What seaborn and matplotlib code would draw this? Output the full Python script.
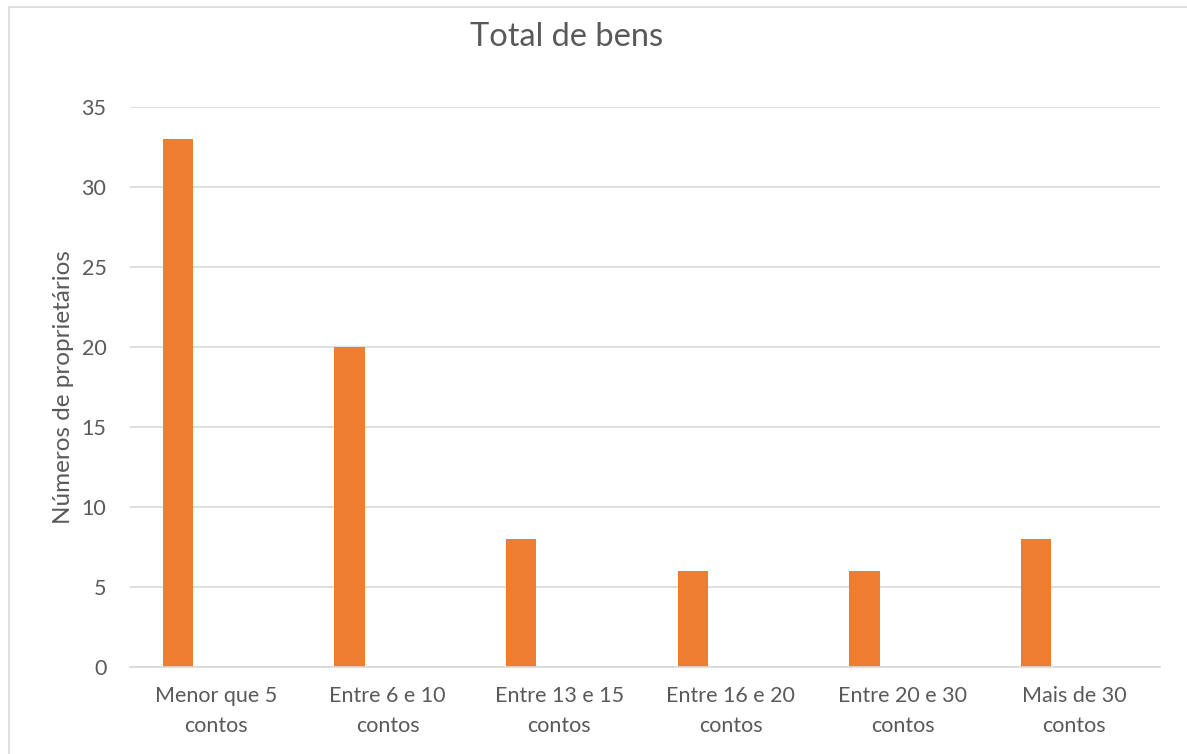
import matplotlib
matplotlib.use("Agg")
import matplotlib.pyplot as plt
import seaborn as sns
import pandas as pd
from matplotlib.patches import Rectangle

categories = ["Menor que 5\ncontos", "Entre 6 e 10\ncontos", "Entre 13 e 15\ncontos",
              "Entre 16 e 20\ncontos", "Entre 20 e 30\ncontos", "Mais de 30\ncontos"]
proprietarios = [33, 20, 8, 6, 6, 8]
vazio = [0, 0, 0, 0, 0, 0]
series_names = ["Total de bens", "Série 2"]
title = "Total de bens"
y_label = "Números de proprietários"
y_ticks = [0, 5, 10, 15, 20, 25, 30, 35]

df = pd.DataFrame({
    "categoria": categories * 2,
    "valor": proprietarios + vazio,
    "serie": [series_names[0]] * len(categories) + [series_names[1]] * len(categories),
})

sns.set_theme(style="white")
plt.rcParams["font.family"] = ["Lato", "DejaVu Sans"]
text_color = "#595959"
grid_color = "#D9D9D9"

fig = plt.figure(figsize=(11.87, 7.54), dpi=100)
ax = fig.add_axes([130 / 1187, 87 / 754, 1030 / 1187, 560 / 754])

sns.barplot(data=df, x="categoria", y="valor", hue="serie", hue_order=series_names,
            order=categories, palette=["#ED7D31", "#A5A5A5"], width=0.885, gap=0.6,
            legend=False, ax=ax, saturation=1, linewidth=0)

ax.set_xlim(-0.5, len(categories) - 0.5)
ax.set_ylim(0, 35)
ax.set_yticks(y_ticks)
ax.set_yticklabels([str(t) for t in y_ticks], fontsize=15.5, color=text_color)
ax.tick_params(axis="x", labelsize=15.5, labelcolor=text_color, length=0, pad=14)
ax.tick_params(axis="y", length=0, pad=17)
for lbl in ax.get_xticklabels():
    lbl.set_linespacing(1.6)
ax.set_xlabel("")
ax.set_ylabel(y_label, fontsize=17.5, color=text_color, labelpad=5)
ax.yaxis.grid(True, color=grid_color, linewidth=1.2)
ax.set_axisbelow(True)
for side in ["top", "right", "left"]:
    ax.spines[side].set_visible(False)
ax.spines["bottom"].set_color(grid_color)
ax.spines["bottom"].set_linewidth(1.2)

fig.text(567 / 1187, 1 - 37 / 754, title, ha="center", va="center",
         fontsize=23.5, color=text_color)

# chart-area frame
fig.patches.append(Rectangle((9 / 1187, -0.05), 1.1, 1 - 7 / 754 + 0.05,
                             transform=fig.transFigure, fill=False,
                             edgecolor=grid_color, linewidth=1.2))

fig.savefig("out.png", dpi=100)
